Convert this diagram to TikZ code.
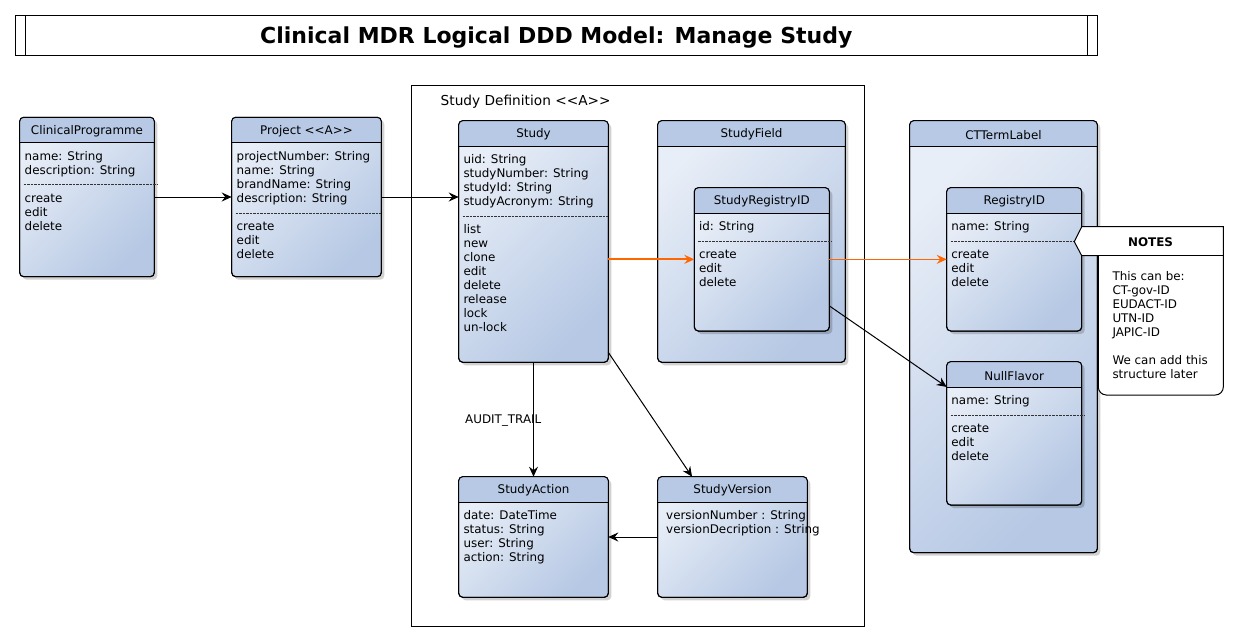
\documentclass[tikz,border=0pt]{standalone}
\usepackage{fontspec}
\setmainfont{DejaVu Sans}
\usetikzlibrary{arrows.meta,calc,shadows}
\definecolor{headfill}{RGB}{183,201,229}
\definecolor{boxlight}{RGB}{232,238,247}
\definecolor{boxdark}{RGB}{182,200,228}
\definecolor{linkorange}{RGB}{255,102,0}
\def\stereoA{<\kern0pt<A>\kern0pt>}
\def\umlclass(#1)(#2,#3)(#4,#5)#6{%
	\node[classbox, minimum width=#4pt, minimum height=#5pt] (#1) at (#2,#3) {};
	\begin{scope}
		\clip[rounded corners=4pt] (#1.north west) rectangle (#1.south east);
		\fill[headfill] (#1.north west) rectangle ($(#1.north east)+(0,25.5)$);
	\end{scope}
	\draw[line width=1pt, rounded corners=4pt] (#1.north west) rectangle (#1.south east);
	\draw[line width=1pt] ($(#1.north west)+(0,25.5)$) -- ($(#1.north east)+(0,25.5)$);
	\node[headtext] (#1-title) at ($(#1.north)+(0,14)$) {#6};
}
\def\attrlines(#1)(#2,#3)#4{\foreach \txt [count=\i] in {#4} \node[attr] (#1-\i) at (#2, #3+14*\i-14) {\txt};}

\begin{document}
\begin{tikzpicture}[x=1pt, y=-1pt,
	classbox/.style={draw, line width=1pt, rounded corners=4pt, anchor=north west, inner sep=0pt, outer sep=0pt,
		top color=boxlight, bottom color=boxdark, shading angle=45,
		drop shadow={shadow xshift=3pt, shadow yshift=-3pt, opacity=0.18, fill=black}},
	headtext/.style={font=\fontsize{11.9}{14}\selectfont, inner sep=0pt},
	attr/.style={font=\fontsize{11.9}{14}\selectfont, anchor=base west, inner sep=0pt},
	sep/.style={line width=0.6pt, black!80, dash pattern=on 2.5pt off 1pt},
	link/.style={line width=1pt, -{Stealth[length=10pt, width=9pt, inset=3.5pt]}}]
			%%%%% START %%%%%
			\useasboundingbox (0,0) rectangle (1239,642);
			
			% title
			\draw[line width=1.2pt] (15.3,15.3) rectangle (1097.3,55.3);
			\draw[line width=1.2pt] (25.3,15.3) -- (25.3,55.3);
			\draw[line width=1.2pt] (1087.3,15.3) -- (1087.3,55.3);
			\node[font=\fontsize{22}{26}\selectfont\bfseries, anchor=base, inner sep=0pt] (title) at (556.3,43.5) {Clinical MDR Logical DDD Model: Manage Study};
			
			% package
			\draw[line width=1pt] (411.7,85.3) rectangle (864.3,626);
			\node[font=\fontsize{13.7}{16}\selectfont, anchor=base west, inner sep=0pt] (studydef) at (440.5,105) {Study Definition \stereoA};
			
			\umlclass(cprog)(19.7,117.3)(134.6,159.4){ClinicalProgramme}
			\attrlines(cprog-a)(24.5,160.3){name: String, description: String}
			\draw[sep] (23.5,184.5) -- (157,184.5);
			\attrlines(cprog-b)(24.5,202.3){create, edit, delete}
			
			\umlclass(project)(231.7,117.3)(149.6,159.4){Project \stereoA}
			\attrlines(project-a)(236.5,160.3){projectNumber: String, name: String, brandName: String, description: String}
			\draw[sep] (235.5,212.8) -- (381.3,212.8);
			\attrlines(project-b)(236.5,230.3){create, edit, delete}
			
			\umlclass(study)(458.7,120.7)(149.6,241.6){Study}
			\attrlines(study-a)(463.3,163.7){uid: String, studyNumber: String, studyId: String, studyAcronym: String}
			\draw[sep] (462.5,216.2) -- (608.3,216.2);
			\attrlines(study-b)(463.3,233.7){list, new, clone, edit, delete, release, lock, un-lock}
			
			\umlclass(sfield)(657.7,120.7)(187.6,241.6){StudyField}
			
			\umlclass(sregid)(694.3,187.7)(135,143.3){StudyRegistryID}
			\attrlines(sregid-a)(698.8,230.7){id: String}
			\draw[sep] (698,241.2) -- (832,241.2);
			\attrlines(sregid-b)(698.8,258.7){create, edit, delete}
			
			\umlclass(ctterm)(909.7,120.7)(187.6,432){CTTermLabel}
			
			\umlclass(regid)(946.7,187.7)(135,143.3){RegistryID}
			\attrlines(regid-a)(951.2,230.7){name: String}
			\draw[sep] (950.5,241.2) -- (1081.7,241.2);
			\attrlines(regid-b)(951.2,258.7){create, edit, delete}
			
			\umlclass(nullfl)(946.7,361.7)(135,143.3){NullFlavor}
			\attrlines(nullfl-a)(951.2,404.7){name: String}
			\draw[sep] (950.5,415.2) -- (1084,415.2);
			\attrlines(nullfl-b)(951.2,432.7){create, edit, delete}
			
			\umlclass(saction)(458.7,476.7)(149.6,120.6){StudyAction}
			\attrlines(saction-a)(463.3,519.7){date: DateTime, status: String, user: String, action: String}
			
			\umlclass(sversion)(657.7,476.7)(149.6,120.6){StudyVersion}
			\attrlines(sversion-a)(666,519.7){versionNumber : String, versionDecription : String}
			
			% links
			\draw[link] (cprog) -- (project);
			\draw[link] (project) -- (project -| study.west);
			\draw[link, draw=linkorange, fill=linkorange, line width=2pt] (study.east |- sregid) -- (sregid);
			\draw[link, draw=linkorange, fill=linkorange, line width=1.2pt] (sregid) -- (regid);
			\draw[link] (sregid) -- (nullfl);
			\draw[link] (study) -- (saction);
			\draw[link] (study) -- (sversion);
			\draw[link] (sversion) -- (saction);
			\node[attr] (audit) at (465,423) {AUDIT\_TRAIL};
			
			% note
			\draw[line width=1pt, fill=white] (1081.7,226.7) -- (1223.3,226.7) [rounded corners=8pt] -- (1223.3,395) -- (1098.3,395) [sharp corners] -- (1098.3,255.7) -- (1081.7,255.7) -- (1074.3,241.7) -- cycle;
			\draw[line width=1pt] (1098.3,255.7) -- (1223.3,255.7);
			\node[font=\fontsize{11.9}{14}\selectfont\bfseries, anchor=base, inner sep=0pt] (notes) at (1150.5,246) {NOTES};
			\attrlines(notes-a)(1112.3,280.7){This can be:, CT-gov-ID, EUDACT-ID, UTN-ID, JAPIC-ID}
			\attrlines(notes-b)(1112.3,364.7){We can add this, structure later}
			
			%%%%% END %%%%%
\end{tikzpicture}
\end{document}
